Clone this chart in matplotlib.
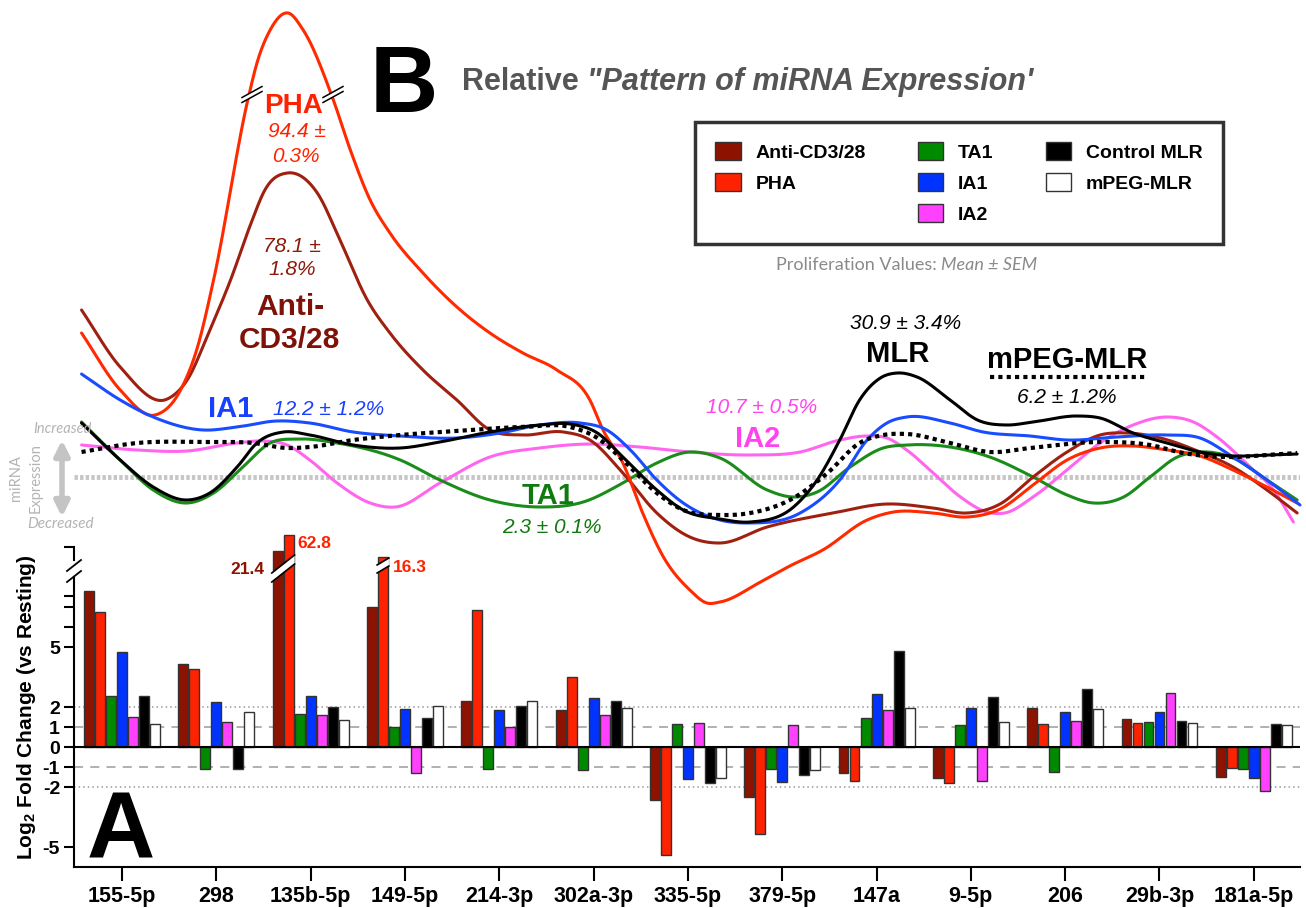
import numpy as np
import matplotlib
matplotlib.use('Agg')
import matplotlib.pyplot as plt
from matplotlib.patches import Patch, Polygon

plt.rcParams['font.family'] = ['Liberation Sans', 'DejaVu Sans']
plt.rcParams['mathtext.fontset'] = 'custom'
plt.rcParams['mathtext.rm'] = 'Liberation Sans'
plt.rcParams['mathtext.bf'] = 'Liberation Sans:bold'

# ---- panel A: bar data (log2 fold change vs resting) ----
mirnas = ['155-5p', '298', '135b-5p', '149-5p', '214-3p', '302a-3p', '335-5p',
          '379-5p', '147a', '9-5p', '206', '29b-3p', '181a-5p']
groups = ['Anti-CD3/28', 'PHA', 'TA1', 'IA1', 'IA2', 'Control MLR', 'mPEG-MLR']
bar_colors = ['#8e1200', '#ff2200', '#008a00', '#0033ff', '#ff40ff', '#000000', '#ffffff']

anti_cd3 = [7.8, 4.13, 9.78, 7.0, 2.32, 1.85, -2.63, -2.52, -1.28, -1.55, 1.97, 1.4, -1.52]
pha = [6.75, 3.88, 10.6, 9.5, 6.87, 3.5, -5.38, -4.33, -1.7, -1.82, 1.17, 1.2, -1.03]
ta1 = [2.53, -1.1, 1.65, 1.0, -1.1, -1.13, 1.17, -1.1, 1.47, 1.1, -1.27, 1.25, -1.1]
ia1 = [4.75, 2.27, 2.57, 1.92, 1.85, 2.45, -1.6, -1.75, 2.67, 1.95, 1.73, 1.77, -1.57]
ia2 = [1.5, 1.27, 1.62, -1.3, 1.0, 1.6, 1.22, 1.1, 1.85, -1.7, 1.28, 2.68, -2.2]
ctrl_mlr = [2.53, -1.1, 2.0, 1.43, 2.05, 2.3, -1.8, -1.42, 4.78, 2.5, 2.9, 1.28, 1.17]
mpeg_mlr = [1.15, 1.75, 1.37, 2.03, 2.28, 1.95, -1.53, -1.13, 1.97, 1.25, 1.9, 1.2, 1.1]
bar_values = [anti_cd3, pha, ta1, ia1, ia2, ctrl_mlr, mpeg_mlr]

# bars drawn with an axis break: (miRNA index, group index, real value)
broken_bars = [(2, 0, '21.4'), (2, 1, '62.8'), (3, 1, '16.3')]

# ---- panel B: relative expression pattern curves (x in miRNA positions) ----
pha_cx = [-0.43, -0.02, 0.35, 0.62, 0.80, 0.97, 1.34, 1.43, 1.57, 1.76, 1.92, 2.24, 2.42, 2.63,
          2.84, 3.19, 3.55, 3.90, 4.25, 4.61, 4.96, 5.10, 5.31, 5.52, 5.74, 6.02, 6.20, 6.34,
          6.77, 7.08, 7.43, 7.90, 8.18, 8.60, 8.96, 9.31, 9.66, 10.02, 10.37, 10.72, 11.08,
          11.43, 11.78, 12.14, 12.46]
pha_cy = [14.4, 8.7, 6.2, 8.7, 13.0, 19.7, 38.0, 41.4, 44.7, 46.4, 44.7, 37.7, 32.7, 27.7,
          24.4, 20.4, 17.0, 14.4, 12.4, 10.7, 7.7, 4.7, 1.4, -3.6, -8.0, -11.3, -12.6, -12.5,
          -10.5, -8.9, -7.3, -4.3, -3.5, -3.6, -4.0, -3.2, -0.8, 1.7, 2.9, 3.1, 2.7,
          2.1, 0.7, -1.0, -2.6]
anti_cx = [-0.43, -0.02, 0.48, 0.69, 0.93, 1.15, 1.36, 1.52, 1.75, 2.07, 2.31, 2.60, 2.84, 3.19,
           3.55, 3.90, 4.25, 4.68, 4.96, 5.31, 5.67, 6.02, 6.34, 6.84, 7.54, 8.11, 8.60, 8.96,
           9.31, 9.66, 10.02, 10.37, 10.66, 11.01, 11.43, 11.78, 12.14, 12.46]
anti_cy = [16.7, 11.0, 7.8, 9.7, 14.7, 19.7, 25.2, 28.8, 30.4, 28.4, 23.7, 17.7, 14.4, 10.7,
           7.7, 4.7, 4.2, 4.5, 3.7, 0.4, -3.6, -6.0, -6.6, -5.0, -3.6, -2.7, -3.1, -3.6,
           -2.7, 0.0, 2.5, 4.2, 4.4, 3.9, 2.5, 1.0, -1.3, -3.6]
ia1_cx = [-0.43, -0.02, 0.33, 0.86, 1.22, 1.64, 1.99, 2.45, 2.95, 3.55, 4.01, 4.43, 4.86, 5.14,
          5.39, 5.67, 5.95, 6.34, 6.66, 7.19, 7.61, 7.90, 8.11, 8.32, 8.78, 9.13, 9.63, 10.02,
          10.55, 11.08, 11.43, 11.78, 12.14, 12.49]
ia1_cy = [10.3, 7.7, 6.0, 4.7, 5.0, 5.6, 5.4, 4.5, 4.1, 3.9, 4.4, 5.2, 5.4, 4.7,
          2.7, -0.3, -2.6, -4.3, -4.6, -3.6, -0.3, 3.7, 5.4, 6.0, 5.4, 4.5, 4.1, 3.7,
          4.0, 4.2, 3.9, 2.0, -0.3, -2.8]
ctrl_cx = [-0.43, -0.02, 0.33, 0.69, 0.93, 1.22, 1.43, 1.71, 1.99, 2.45, 2.95, 3.37, 3.90, 4.43,
           4.75, 5.04, 5.31, 5.67, 5.95, 6.34, 6.66, 7.12, 7.37, 7.61, 7.82, 8.04, 8.22, 8.43,
           8.78, 9.07, 9.38, 9.66, 10.13, 10.37, 10.72, 11.08, 11.43, 11.78, 12.14, 12.46]
ctrl_cy = [5.4, 1.7, -1.0, -2.3, -1.6, 1.0, 3.4, 4.5, 4.2, 3.2, 2.9, 3.5, 4.5, 5.2,
           5.3, 4.4, 2.0, -1.3, -3.3, -4.2, -4.5, -3.0, -0.3, 3.7, 7.7, 9.9, 10.4, 10.0,
           7.7, 5.7, 5.2, 5.5, 6.1, 5.9, 4.4, 3.4, 2.5, 2.1, 2.2, 2.3]
mpeg_cx = [-0.43, 0.16, 0.86, 1.39, 1.75, 1.99, 2.45, 2.95, 3.55, 4.25, 4.75, 5.04, 5.31, 5.67,
           5.95, 6.34, 6.66, 7.12, 7.48, 7.82, 8.07, 8.32, 8.78, 9.20, 9.63, 10.37, 10.90,
           11.25, 11.78, 12.14, 12.46]
mpeg_cy = [2.5, 3.4, 3.5, 3.4, 2.9, 3.0, 3.7, 4.2, 4.6, 5.0, 5.0, 3.9, 1.7, -1.6,
           -3.3, -3.8, -3.6, -2.1, 0.4, 3.4, 4.2, 4.3, 3.4, 2.5, 2.9, 3.5, 3.2,
           2.4, 2.0, 2.2, 2.4]
ta1_cx = [-0.43, -0.02, 0.33, 0.69, 0.97, 1.28, 1.57, 1.86, 2.28, 2.95, 3.37, 3.90, 4.43, 4.89,
          5.31, 5.67, 6.02, 6.34, 6.84, 7.12, 7.37, 7.72, 8.07, 8.32, 8.78, 9.20, 9.66, 10.02,
          10.30, 10.62, 10.90, 11.19, 11.43, 11.78, 12.14, 12.46]
ta1_cy = [5.5, 1.7, -1.3, -2.6, -1.6, 1.0, 3.4, 3.8, 3.4, 1.7, -0.3, -2.3, -3.0, -2.5,
          -0.6, 1.4, 2.5, 1.9, -1.3, -2.0, -1.5, 1.0, 2.9, 3.2, 3.0, 2.0, 0.0, -1.8,
          -2.6, -2.0, 0.0, 2.0, 2.5, 1.9, -0.3, -2.3]
ia2_cx = [-0.43, 0.16, 0.69, 1.22, 1.50, 1.75, 1.99, 2.28, 2.63, 2.90, 3.37, 3.90, 4.43, 4.96,
          5.49, 6.02, 6.66, 7.19, 7.61, 7.90, 8.11, 8.32, 8.60, 8.89, 9.17, 9.36, 9.66, 10.02,
          10.37, 10.72, 11.08, 11.36, 11.61, 11.96, 12.21, 12.42]
ia2_cy = [3.2, 2.7, 2.6, 3.4, 3.6, 3.2, 1.7, -0.6, -2.6, -3.0, -0.6, 2.0, 2.9, 3.3,
          3.0, 2.5, 2.2, 2.5, 3.7, 4.1, 3.9, 2.7, 0.4, -2.0, -3.5, -3.6, -2.0, 0.7,
          3.4, 5.2, 6.0, 5.5, 4.0, 1.0, -1.3, -4.5]


def smooth(x, y, n=24):
    # cubic Hermite through the read points, only used to draw a smooth line
    x = np.asarray(x, float)
    y = np.asarray(y, float)
    m = np.gradient(y, x)
    t = np.linspace(0, 1, n, endpoint=False)
    h00 = 2 * t**3 - 3 * t**2 + 1
    h10 = t**3 - 2 * t**2 + t
    h01 = -2 * t**3 + 3 * t**2
    h11 = t**3 - t**2
    xs, ys = [], []
    for i in range(len(x) - 1):
        h = x[i + 1] - x[i]
        xs.append(x[i] + t * h)
        ys.append(h00 * y[i] + h10 * h * m[i] + h01 * y[i + 1] + h11 * h * m[i + 1])
    xs.append([x[-1]])
    ys.append([y[-1]])
    return np.concatenate(xs), np.concatenate(ys)


W, H = 1306, 908
fig = plt.figure(figsize=(W / 100, H / 100), dpi=100)

# ---------------- panel A ----------------
ax = fig.add_axes([74 / W, 41 / H, 1226 / W, 320 / H])
pos = np.arange(len(mirnas))
step, bw = 0.1167, 0.105
for i, vals in enumerate(bar_values):
    ax.bar(pos + (i - 3) * step, vals, width=bw, color=bar_colors[i],
           edgecolor='#333333', linewidth=1, zorder=3, clip_on=False)
ax.set_xlim(-0.51, 12.49)
ax.set_ylim(-6, 10)
for v in (1, -1):
    ax.axhline(v, color='#aaaaaa', lw=1.3, ls=(0, (5, 4)), zorder=1)
for v in (2, -2):
    ax.axhline(v, color='#999999', lw=1.1, ls=(0, (1, 2)), zorder=1)
ax.axhline(0, color='black', lw=1.5, zorder=4)

for s in ('top', 'right'):
    ax.spines[s].set_visible(False)
for s in ('left', 'bottom'):
    ax.spines[s].set_linewidth(1.5)
ax.spines['left'].set_bounds(-6, 8.5)
ax.plot([0, 0], [9.35, 10], color='black', lw=1.5, transform=ax.get_yaxis_transform(),
        clip_on=False)

yt = [-5, -2, -1, 0, 1, 2, 5]
ax.set_yticks(yt)
ax.set_yticklabels([str(v) for v in yt], fontsize=14, fontweight='bold')
ax.set_yticks([6, 7, 7.57, 10], minor=True)
ax.tick_params(axis='y', which='both', length=7, width=1.5, pad=3)
ax.set_xticks(pos)
ax.set_xticklabels(mirnas, fontsize=15.5, fontweight='bold')
ax.tick_params(axis='x', length=10, width=1.5, pad=4)
ax.set_ylabel(r'Log$_\mathbf{2}$ Fold Change (vs Resting)', fontsize=15, fontweight='bold')
ax.yaxis.set_label_coords(-0.029, 0.5)

# breaks on the tall bars
def bar_break(x0, x1, y0, y1, th):
    band = Polygon([(x0, y0), (x1, y1), (x1, y1 + th), (x0, y0 + th)], closed=True,
                   facecolor='white', edgecolor='none', zorder=5, clip_on=False)
    ax.add_patch(band)
    for d in (0, th):
        ax.plot([x0, x1], [y0 + d, y1 + d], color='black', lw=1.2, zorder=6, clip_on=False)

b0 = 2 - 3 * step - bw / 2 - 0.01
b1 = 2 - 2 * step + bw / 2 + 0.01
bar_break(b0, b1, 8.25, 9.15, 0.45)
c0 = 3 - 2 * step - bw / 2 - 0.01
c1 = 3 - 2 * step + bw / 2 + 0.01
bar_break(c0, c1, 8.7, 9.05, 0.4)

lab_col = {0: '#8e1200', 1: '#ff2200'}
ax.text(1.51, 8.85, broken_bars[0][2], color=lab_col[0], fontsize=12.5, fontweight='bold',
        ha='right', va='center')
ax.text(1.86, 10.2, broken_bars[1][2], color=lab_col[1], fontsize=12.5, fontweight='bold',
        ha='left', va='center')
ax.text(2.87, 8.95, broken_bars[2][2], color=lab_col[1], fontsize=12.5, fontweight='bold',
        ha='left', va='center')

# ---------------- panel B ----------------
top = fig.add_axes([74 / W, 363 / H, 1226 / W, 545 / H])
top.set_xlim(-0.51, 12.49)
top.set_ylim(-6.8, 47.7)
top.axis('off')
top.axhline(0, color='#c6c6c6', lw=3.5, ls=(0, (0.7, 0.45)), zorder=1)

curves = [
    (ia2_cx, ia2_cy, '#ff66ee', '-', 2.2),
    (ta1_cx, ta1_cy, '#1a8c1a', '-', 2.2),
    (anti_cx, anti_cy, '#a02010', '-', 2.2),
    (pha_cx, pha_cy, '#ff2a00', '-', 2.2),
    (ia1_cx, ia1_cy, '#1a4cff', '-', 2.2),
    (ctrl_cx, ctrl_cy, '#000000', '-', 2.2),
    (mpeg_cx, mpeg_cy, '#000000', (0, (1, 1)), 3.0),
]
for cx, cy, col, ls, lw in curves:
    sx, sy = smooth(cx, cy)
    top.plot(sx, sy, color=col, ls=ls, lw=lw, zorder=3, solid_capstyle='round',
             clip_on=False)

# ---------------- annotations (pixel coordinates) ----------------
ov = fig.add_axes([0, 0, 1, 1])
ov.set_xlim(0, W)
ov.set_ylim(H, 0)
ov.axis('off')

# y-axis break slashes
for dy in (0, -11):
    ov.plot([67, 81], [582 + dy, 571 + dy], color='black', lw=1.3)

# breaks on the PHA curve
for cxp in (252, 333):
    ov.add_patch(Polygon([(cxp - 9, 97), (cxp + 9, 87), (cxp + 9, 92), (cxp - 9, 102)],
                         closed=True, facecolor='white', edgecolor='none', zorder=5))
    for d in (0, 5):
        ov.plot([cxp - 10, cxp + 10], [97.5 + d, 86.5 + d], color='black', lw=1.1, zorder=6)

ov.text(121, 858, 'A', fontsize=68, fontweight='bold', ha='center', va='baseline')
ov.text(404, 112, 'B', fontsize=68, fontweight='bold', ha='center', va='baseline')

t1 = ov.text(462, 90, 'Relative ', fontsize=22, fontweight='bold', color='#555555',
             va='baseline')
ov.annotate('"Pattern of miRNA Expression\'', xy=(1, 0), xycoords=t1, va='bottom',
            fontsize=22, fontweight='bold', fontstyle='italic', color='#555555')

lato = ['Lato', 'Liberation Sans', 'DejaVu Sans']
t2 = ov.text(776, 270, 'Proliferation Values: ', fontsize=13, color='#8a8a8a',
             family=lato, va='baseline')
ov.annotate('Mean \u00b1 SEM', xy=(1, 0), xycoords=t2, va='bottom', fontsize=13,
            color='#8a8a8a', family=lato, fontstyle='italic')

def lab(x, y, s, col, size, bold=False, italic=False):
    ov.text(x, y, s, color=col, fontsize=size, ha='center', va='baseline',
            fontweight='bold' if bold else 'normal',
            fontstyle='italic' if italic else 'normal')

lab(293, 113, 'PHA', '#ff2200', 20, bold=True)
lab(297, 137, '94.4 \u00b1', '#ff2200', 15, italic=True)
lab(296, 162, '0.3%', '#ff2200', 15, italic=True)
lab(292, 252, '78.1 \u00b1', '#8b1a0a', 15, italic=True)
lab(292, 275, '1.8%', '#8b1a0a', 15, italic=True)
lab(290, 315, 'Anti-', '#7d1208', 21.5, bold=True)
lab(289, 348, 'CD3/28', '#7d1208', 21.5, bold=True)
lab(231, 417, 'IA1', '#1a40ff', 21, bold=True)
lab(329, 415, '12.2 \u00b1 1.2%', '#1a40ff', 15, italic=True)
lab(548, 504, 'TA1', '#107a10', 21, bold=True)
lab(552, 533, '2.3 \u00b1 0.1%', '#107a10', 15, italic=True)
lab(762, 413, '10.7 \u00b1 0.5%', '#ff44ee', 15, italic=True)
lab(758, 447, 'IA2', '#ff44ee', 21, bold=True)
lab(906, 329, '30.9 \u00b1 3.4%', 'black', 15, italic=True)
lab(898, 362, 'MLR', 'black', 21, bold=True)
lab(1067, 368, 'mPEG-MLR', 'black', 21, bold=True)
ov.plot([990, 1145], [377, 377], color='black', lw=3, ls=(0, (1, 1)))
lab(1067, 403, '6.2 \u00b1 1.2%', 'black', 15, italic=True)

# expression direction key
ov.annotate('', xy=(62, 517), xytext=(62, 440),
            arrowprops=dict(arrowstyle='<|-|>', color='#c4c4c4', lw=4, mutation_scale=22,
                            shrinkA=0, shrinkB=0))
ov.text(62, 433, 'Increased', fontsize=10.5, color='#b4b4b4', family=lato,
        fontstyle='italic', ha='center', va='baseline')
ov.text(61, 528, 'Decreased', fontsize=11, color='#b4b4b4', family=lato,
        fontstyle='italic', ha='center', va='baseline')
ov.text(16, 478, 'miRNA', fontsize=10.5, color='#b4b4b4', family=lato, rotation=90,
        ha='center', va='center')
ov.text(36, 478, 'Expression', fontsize=10.5, color='#b4b4b4', family=lato, rotation=90,
        ha='center', va='center')

# legend
handles = []
for i in range(7):
    handles.append(Patch(facecolor=bar_colors[i], edgecolor='#333333', lw=1, label=groups[i]))
blank = Patch(facecolor='none', edgecolor='none', label='')
handles = handles[:2] + [blank] + handles[2:5] + handles[5:] + [blank]
leg = fig.legend(handles=handles, labels=[h.get_label() for h in handles], ncol=3,
                 loc='upper left', bbox_to_anchor=(695 / W, 1 - 122 / H),
                 prop={'weight': 'bold', 'size': 14}, frameon=True, fancybox=False,
                 edgecolor='black', handlelength=1.3, handleheight=1.0, handletextpad=0.75,
                 columnspacing=2.7, labelspacing=0.6, borderpad=1.05, borderaxespad=0)
leg.get_frame().set_linewidth(2.5)

fig.savefig('out.png', dpi=100)
